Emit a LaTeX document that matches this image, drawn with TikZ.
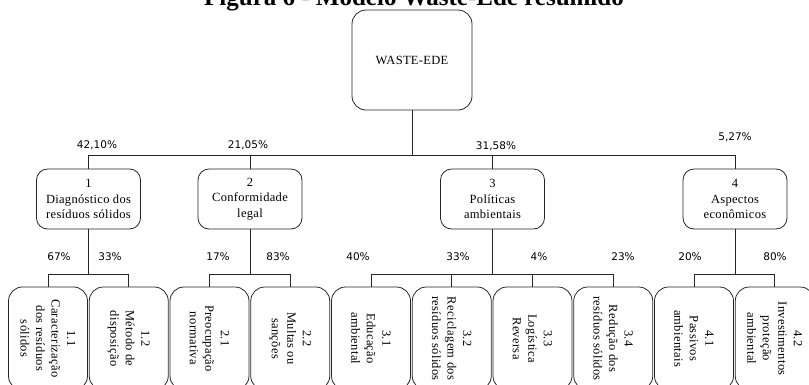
\documentclass[tikz,border=0pt]{standalone}
\usepackage{fontspec}
\setmainfont{Liberation Serif}
\newfontfamily\boxfont[LetterSpace=2.5]{Liberation Serif}
\newfontfamily\pctfont{DejaVu Sans}
\begin{document}
\begin{tikzpicture}[x=1pt,y=-1pt,
  line width=0.8pt,
  rootbox/.style={draw=black!85, rounded corners=14pt, minimum width=120pt, minimum height=100pt, inner sep=0pt, font=\boxfont\fontsize{12.5}{15}\selectfont},
  midbox/.style={draw=black!85, rounded corners=11pt, minimum width=104pt, minimum height=60pt, inner sep=0pt, align=center, font=\boxfont\fontsize{12.5}{15.5}\selectfont},
  leafbox/.style={draw=black!85, rounded corners=14pt, rotate=-90, minimum width=103pt, minimum height=79pt, inner sep=0pt, align=center, font=\boxfont\fontsize{12.5}{15.5}\selectfont},
  pct/.style={font=\pctfont\fontsize{10.5}{12}\selectfont, inner sep=0pt},
  conn/.style={draw=black!85, line width=0.8pt}
]
\useasboundingbox (0,0) rectangle (809,384);
\clip (0,0) rectangle (809,384);

\node[font=\bfseries\fontsize{25}{30}\selectfont, anchor=base, inner sep=0pt] (title) at (414,5) {Figura 6 - Modelo Waste-Ede resumido};

\node[rootbox] (root) at (412,60) {WASTE-EDE};

\node[midbox] (b1) at (88.5,199) {1\\Diagnóstico dos\\resíduos sólidos};
\node[midbox] (b2) at (250,199) {2\\Conformidade\\legal};
\node[midbox] (b3) at (492.5,199) {3\\Políticas\\ambientais};
\node[midbox] (b4) at (735,199) {4\\Aspectos\\econômicos};

\node[leafbox] (l11) at (48,338.5) {1.1\\Caracterização\\dos resíduos\\sólidos};
\node[leafbox] (l12) at (128.75,338.5) {1.2\\Método de\\disposição};
\node[leafbox] (l21) at (209.5,338.5) {2.1\\Preocupação\\normativa};
\node[leafbox] (l22) at (290.25,338.5) {2.2\\Multas ou\\sanções};
\node[leafbox] (l31) at (371,338.5) {3.1\\Educação\\ambiental};
\node[leafbox] (l32) at (451.75,338.5) {3.2\\Reciclagem dos\\resíduos sólidos};
\node[leafbox] (l33) at (532.5,338.5) {3.3\\Logística\\Reversa};
\node[leafbox] (l34) at (613.25,338.5) {3.4\\Redução dos\\resíduos sólidos};
\node[leafbox] (l41) at (694,338.5) {4.1\\Passivos\\ambientais};
\node[leafbox] (l42) at (774.75,338.5) {4.2\\Investimentos\\proteção\\ambiental};

\coordinate (bus0) at (412,155);
\coordinate (bus1) at (0,274);

\draw[conn] (root.south) -- (bus0);
\draw[conn] (b1.north) -- (b1.north |- bus0) -- (b4.north |- bus0) -- (b4.north);
\draw[conn] (b2.north) -- (b2.north |- bus0);
\draw[conn] (b3.north) -- (b3.north |- bus0);

\draw[conn] (b1.south) -- (b1.south |- bus1);
\draw[conn] (l11.west) -- (l11.west |- bus1) -- (l12.west |- bus1) -- (l12.west);
\draw[conn] (b2.south) -- (b2.south |- bus1);
\draw[conn] (l21.west) -- (l21.west |- bus1) -- (l22.west |- bus1) -- (l22.west);
\draw[conn] (b3.south) -- (b3.south |- bus1);
\draw[conn] (l31.west) -- (l31.west |- bus1) -- (l34.west |- bus1) -- (l34.west);
\draw[conn] (l32.west) -- (l32.west |- bus1);
\draw[conn] (l33.west) -- (l33.west |- bus1);
\draw[conn] (b4.south) -- (b4.south |- bus1);
\draw[conn] (l41.west) -- (l41.west |- bus1) -- (l42.west |- bus1) -- (l42.west);

\node[pct] (p1) at (97,145) {42,10\%};
\node[pct] (p2) at (248,145) {21,05\%};
\node[pct] (p3) at (496,146) {31,58\%};
\node[pct] (p4) at (735,137) {5,27\%};

\node[pct] (p11) at (59,257) {67\%};
\node[pct] (p12) at (110,257) {33\%};
\node[pct] (p21) at (218,257) {17\%};
\node[pct] (p22) at (278,257) {83\%};
\node[pct] (p31) at (358,257) {40\%};
\node[pct] (p32) at (458,257) {33\%};
\node[pct] (p33) at (539,257) {4\%};
\node[pct] (p34) at (623,257) {23\%};
\node[pct] (p41) at (690,257) {20\%};
\node[pct] (p42) at (775,257) {80\%};
\end{tikzpicture}
\end{document}
